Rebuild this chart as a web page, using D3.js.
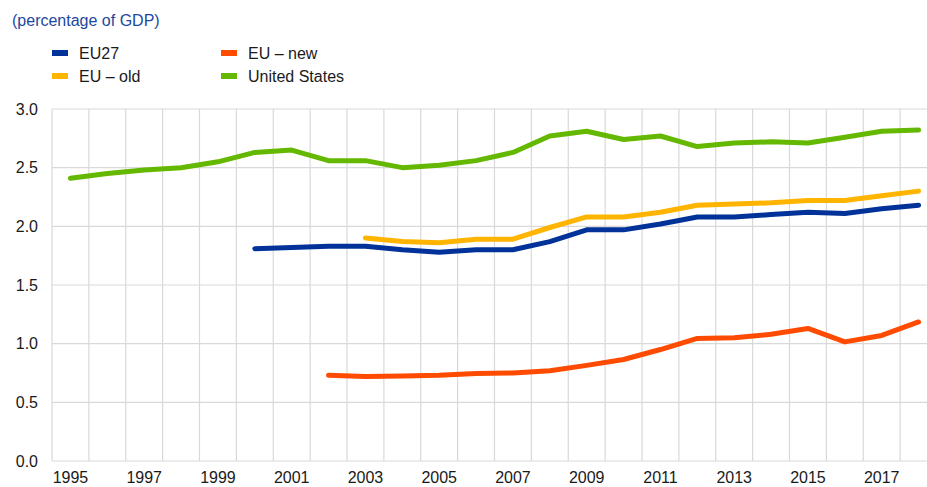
<!DOCTYPE html>
<html>
<head>
<meta charset="utf-8">
<script src="https://cdn.jsdelivr.net/npm/d3@7"></script>
<style>
  body { margin: 0; background: #fff; }
  svg { font-family: "Liberation Sans", Arial, sans-serif; }
</style>
</head>
<body>
<script>
// data
var years = d3.range(1995, 2019);
var tickYears = [1995, 1997, 1999, 2001, 2003, 2005, 2007, 2009, 2011, 2013, 2015, 2017];
var yTicks = [0, 0.5, 1.0, 1.5, 2.0, 2.5, 3.0];

var usValues = [2.41, 2.45, 2.48, 2.50, 2.55, 2.63, 2.65, 2.56, 2.56, 2.50, 2.52, 2.56,
  2.63, 2.77, 2.81, 2.74, 2.77, 2.68, 2.71, 2.72, 2.71, 2.76, 2.81, 2.82];
var eu27Values = [null, null, null, null, null, 1.81, 1.82, 1.83, 1.83, 1.80, 1.78, 1.80,
  1.80, 1.87, 1.97, 1.97, 2.02, 2.08, 2.08, 2.10, 2.12, 2.11, 2.15, 2.18];
var euOldValues = [null, null, null, null, null, null, null, null, 1.90, 1.87, 1.86, 1.89,
  1.89, 1.99, 2.08, 2.08, 2.12, 2.18, 2.19, 2.20, 2.22, 2.22, 2.26, 2.30];
var euNewValues = [null, null, null, null, null, null, null, 0.73, 0.72, 0.725, 0.73, 0.745,
  0.75, 0.77, 0.815, 0.865, 0.95, 1.045, 1.05, 1.08, 1.13, 1.015, 1.07, 1.185];

var series = [
  { name: 'EU27', values: eu27Values, color: '#003299' },
  { name: 'EU \u2013 old', values: euOldValues, color: '#ffb400' },
  { name: 'EU \u2013 new', values: euNewValues, color: '#ff4b00' },
  { name: 'United States', values: usValues, color: '#65b800' }
];

var W = 927, H = 487;
var svg = d3.select('body').append('svg')
  .attr('width', W)
  .attr('height', H);

var x = d3.scaleBand().domain(years).range([52, 937]);
var y = d3.scaleLinear().domain([0, 3]).range([461, 109]);

// title
svg.append('text')
  .attr('x', 12)
  .attr('y', 26)
  .attr('fill', '#1c48a0')
  .style('font-size', '16px')
  .text('(percentage of GDP)');

// legend
var legendPos = [
  { sx: 52, ty: 53 }, { sx: 52, ty: 76 }, { sx: 221, ty: 53 }, { sx: 221, ty: 76 }
];
series.forEach(function (s, i) {
  var p = legendPos[i];
  svg.append('rect')
    .attr('x', p.sx).attr('y', p.ty - 3)
    .attr('width', 16).attr('height', 6)
    .attr('fill', s.color);
  svg.append('text')
    .attr('x', p.sx + 27).attr('y', p.ty + 5.5)
    .attr('fill', '#1a1a1a')
    .style('font-size', '16px')
    .text(s.name);
});

// grid
var grid = svg.append('g').attr('stroke', '#d9d9d9').attr('stroke-width', 1.2);
yTicks.forEach(function (t) {
  grid.append('line')
    .attr('x1', 52).attr('x2', W)
    .attr('y1', y(t)).attr('y2', y(t));
});
years.forEach(function (yr) {
  grid.append('line')
    .attr('x1', x(yr)).attr('x2', x(yr))
    .attr('y1', y(3)).attr('y2', y(0));
});

// y axis labels
var yAxis = d3.axisLeft(y).tickValues(yTicks).tickFormat(d3.format('.1f')).tickSize(0).tickPadding(14);
var gy = svg.append('g').attr('transform', 'translate(52,0)').call(yAxis);
gy.select('.domain').remove();
gy.selectAll('text').attr('fill', '#1a1a1a').style('font-size', '16px').attr('font-family', null);

// x axis labels
var xAxis = d3.axisBottom(x).tickValues(tickYears).tickSize(0).tickPadding(11);
var gx = svg.append('g').attr('transform', 'translate(0,' + y(0) + ')').call(xAxis);
gx.select('.domain').remove();
gx.selectAll('text').attr('fill', '#1a1a1a').style('font-size', '16px').attr('font-family', null);

// lines
var line = d3.line()
  .defined(function (d) { return d.v !== null; })
  .x(function (d) { return x(d.year) + x.bandwidth() / 2; })
  .y(function (d) { return y(d.v); });

series.forEach(function (s) {
  var pts = years.map(function (yr, i) { return { year: yr, v: s.values[i] }; });
  svg.append('path')
    .datum(pts)
    .attr('fill', 'none')
    .attr('stroke', s.color)
    .attr('stroke-width', 5)
    .attr('stroke-linecap', 'round')
    .attr('stroke-linejoin', 'round')
    .attr('d', line);
});
</script>
</body>
</html>
